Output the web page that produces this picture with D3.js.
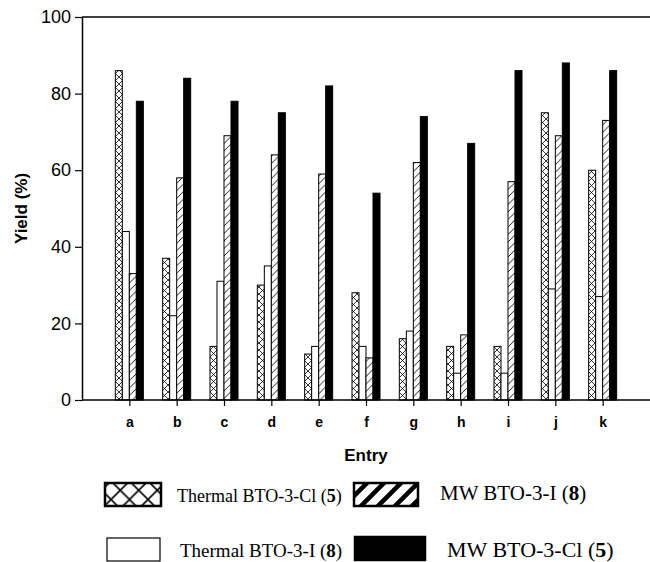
<!DOCTYPE html>
<html>
<head>
<meta charset="utf-8">
<script src="https://cdn.jsdelivr.net/npm/d3@7"></script>
<style>
  body { margin: 0; background: #fff; }
  svg { display: block; }
</style>
</head>
<body>
<div id="chart"></div>
<script>
// entries along the x axis
var entries = ["a", "b", "c", "d", "e", "f", "g", "h", "i", "j", "k"];
// yields (%)
var thermalCl = [86, 37, 14, 30, 12, 28, 16, 14, 14, 75, 60];
var thermalI  = [44, 22, 31, 35, 14, 14, 18,  7,  7, 29, 27];
var mwI       = [33, 58, 69, 64, 59, 11, 62, 17, 57, 69, 73];
var mwCl      = [78, 84, 78, 75, 82, 54, 74, 67, 86, 88, 86];
var yTicks = [0, 20, 40, 60, 80, 100];

var series = [
  { key: "thermalCl", values: thermalCl, fill: "url(#cross)", legend: "url(#crossBig)", name: "Thermal BTO-3-Cl (", num: "5" },
  { key: "thermalI", values: thermalI, fill: "#fff", legend: "#fff", name: "Thermal BTO-3-I (", num: "8" },
  { key: "mwI", values: mwI, fill: "url(#hatch)", legend: "url(#hatchBig)", name: "MW BTO-3-I (", num: "8" },
  { key: "mwCl", values: mwCl, fill: "#000", legend: "#000", name: "MW BTO-3-Cl (", num: "5" }
];

var W = 650, H = 562;
var m = { left: 82, right: 650, top: 17, bottom: 400 };

var svg = d3.select("#chart").append("svg")
  .attr("width", W)
  .attr("height", H);

// patterns for the bars and the (bigger) legend swatches
var defs = svg.append("defs");
function crossPattern(id, s, sw) {
  var p = defs.append("pattern").attr("id", id)
    .attr("patternUnits", "userSpaceOnUse").attr("width", s).attr("height", s);
  p.append("rect").attr("width", s).attr("height", s).attr("fill", "#fff");
  p.append("path").attr("d", "M0,0L" + s + "," + s + "M" + s + ",0L0," + s)
    .attr("stroke", "#000").attr("stroke-width", sw).attr("fill", "none");
}
function hatchPattern(id, s, sw) {
  var p = defs.append("pattern").attr("id", id)
    .attr("patternUnits", "userSpaceOnUse").attr("width", s).attr("height", s);
  p.append("rect").attr("width", s).attr("height", s).attr("fill", "#fff");
  p.append("path").attr("d", "M0," + s + "L" + s + ",0M" + (-s) + "," + s + "L" + s + "," + (-s) + "M0," + (2 * s) + "L" + (2 * s) + ",0")
    .attr("stroke", "#000").attr("stroke-width", sw).attr("fill", "none");
}
crossPattern("cross", 7, 0.8);
crossPattern("crossBig", 18.5, 1.6);
hatchPattern("hatch", 7.5, 0.9);
hatchPattern("hatchBig", 17, 4.5);

// x in "slot" units: groups sit at 1..11, the axis runs 0..12
var x = d3.scaleLinear().domain([0, 12]).range([m.left, m.right]);
var xCat = d3.scalePoint().domain(entries).range([x(1), x(11)]);
var y = d3.scaleLinear().domain([0, 100]).range([m.bottom, m.top]);

var barW = 0.148;  // one bar, in slot units
var groups = svg.append("g");
series.forEach(function (s, si) {
  groups.selectAll(".bar-" + s.key)
    .data(s.values)
    .enter().append("rect")
    .attr("class", "bar-" + s.key)
    .attr("x", function (d, i) { return x(i + 1 + (si - 2) * barW); })
    .attr("y", function (d) { return y(d); })
    .attr("width", x(barW) - x(0))
    .attr("height", function (d) { return y(0) - y(d); })
    .attr("fill", s.fill)
    .attr("stroke", "#000")
    .attr("stroke-width", 1);
});

// top frame line
svg.append("line")
  .attr("x1", m.left).attr("x2", m.right)
  .attr("y1", m.top).attr("y2", m.top)
  .attr("stroke", "#000").attr("stroke-width", 1.5);

// x axis
var xAxis = svg.append("g")
  .attr("transform", "translate(0," + m.bottom + ")")
  .call(d3.axisBottom(xCat).tickSize(6).tickSizeOuter(0));
xAxis.select(".domain").remove();
xAxis.append("line")
  .attr("x1", m.left).attr("x2", m.right)
  .attr("stroke", "#000").attr("stroke-width", 1.5);
xAxis.selectAll(".tick line").attr("stroke", "#000").attr("stroke-width", 1.2);
xAxis.selectAll(".tick text")
  .attr("dy", 0).attr("y", 27)
  .attr("font-family", "Liberation Sans, Arial, sans-serif")
  .attr("font-weight", "bold")
  .attr("font-size", 14)
  .attr("fill", "#000");

// y axis
var yAxis = svg.append("g")
  .attr("transform", "translate(" + m.left + ",0)")
  .call(d3.axisLeft(y).tickValues(yTicks).tickSize(7).tickSizeOuter(0).tickPadding(4));
yAxis.select(".domain").attr("stroke-width", 1.5);
yAxis.selectAll(".tick line").attr("stroke-width", 1.2);
yAxis.selectAll(".tick text")
  .attr("font-family", "Liberation Sans, Arial, sans-serif")
  .attr("font-size", 18)
  .attr("fill", "#000");

// axis titles
svg.append("text")
  .attr("transform", "translate(27," + ((m.top + m.bottom) / 2) + ") rotate(-90)")
  .attr("text-anchor", "middle")
  .attr("font-family", "Liberation Sans, Arial, sans-serif")
  .attr("font-weight", "bold")
  .attr("font-size", 17)
  .text("Yield (%)");

svg.append("text")
  .attr("x", (m.left + m.right) / 2)
  .attr("y", 461)
  .attr("text-anchor", "middle")
  .attr("font-family", "Liberation Sans, Arial, sans-serif")
  .attr("font-weight", "bold")
  .attr("font-size", 17)
  .text("Entry");

// legend: two rows, two columns
var legendPos = [
  { sx: 105, sy: 483, sw: 56, tx: 177, ty: 502, fs: 18 },
  { sx: 107, sy: 538, sw: 53, tx: 180, ty: 557, fs: 19 },
  { sx: 354, sy: 483, sw: 64, tx: 440, ty: 500, fs: 21 },
  { sx: 355, sy: 537, sw: 70, tx: 447, ty: 557, fs: 22 }
];
var legend = svg.append("g");
series.forEach(function (s, i) {
  var p = legendPos[i];
  legend.append("rect")
    .attr("x", p.sx).attr("y", p.sy)
    .attr("width", p.sw)
    .attr("height", 23)
    .attr("fill", s.legend)
    .attr("stroke", "#000")
    .attr("stroke-width", i === 1 ? 1.2 : 2.5);
  var t = legend.append("text")
    .attr("x", p.tx).attr("y", p.ty)
    .attr("font-family", "Liberation Serif, Times New Roman, serif")
    .attr("font-size", p.fs)
    .attr("fill", "#000");
  t.append("tspan").text(s.name);
  t.append("tspan").attr("font-weight", "bold").text(s.num);
  t.append("tspan").text(")");
});
</script>
</body>
</html>
